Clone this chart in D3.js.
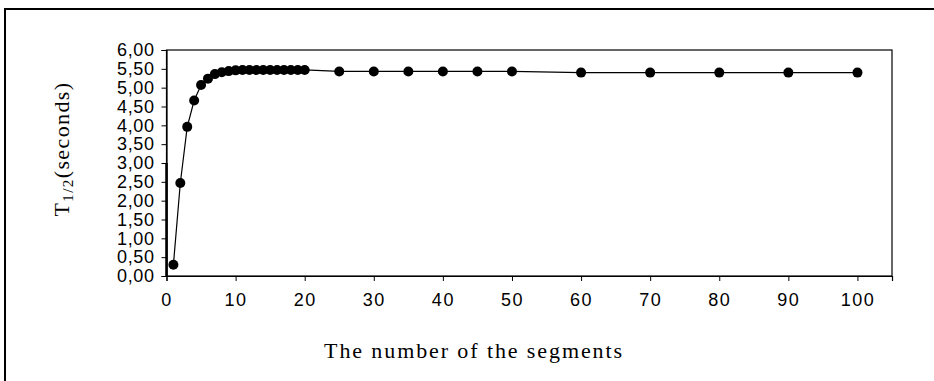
<!DOCTYPE html>
<html><head><meta charset="utf-8">
<script src="https://cdn.jsdelivr.net/npm/d3@7"></script>
<style>
html,body{margin:0;padding:0;background:#fff;}
svg{display:block;}
</style></head>
<body>
<svg id="chart" width="934" height="381"></svg>
<script>
const segments = [1,2,3,4,5,6,7,8,9,10,11,12,13,14,15,16,17,18,19,20,25,30,35,40,45,50,60,70,80,90,100];
const halfTimes = [0.30,2.47,3.96,4.66,5.07,5.24,5.36,5.41,5.44,5.46,5.47,5.47,5.47,5.47,5.47,5.47,5.47,5.47,5.47,5.47,5.43,5.43,5.43,5.43,5.43,5.43,5.40,5.40,5.40,5.40,5.40];
const xTicks = [0,10,20,30,40,50,60,70,80,90,100];
const yTicks = [0,0.5,1,1.5,2,2.5,3,3.5,4,4.5,5,5.5,6];
const axisEmphasis = [0, 3.0];
const xTitle = "The number of the segments";

const svg = d3.select("#chart");
const L = 166.5, R = 892, T = 50, B = 276;
const x = d3.scaleLinear().domain([0,105]).range([L,R]);
const y = d3.scaleLinear().domain([0,6]).range([B,T]);

// outer border
svg.append("rect").attr("x",5).attr("y",9).attr("width",1000).attr("height",500)
  .attr("fill","none").attr("stroke","#000").attr("stroke-width",2);

// plot frame
svg.append("rect").attr("x",L).attr("y",T).attr("width",R-L).attr("height",B-T)
  .attr("fill","none").attr("stroke","#000").attr("stroke-width",1.2);

const fmt = d => d3.format(".2f")(d).replace(".",",");
const yAxis = d3.axisLeft(y).tickValues(yTicks).tickFormat(fmt).tickSize(5).tickPadding(7);
const gy = svg.append("g").attr("transform",`translate(${L},0)`).call(yAxis);
gy.select(".domain").attr("stroke","#000").attr("stroke-width",1.2);
gy.selectAll("text").attr("font-family","Liberation Sans Narrow, Liberation Sans, Arial, sans-serif")
  .attr("font-size","18px").attr("letter-spacing","0.6px").attr("fill","#000");

const xAxis = d3.axisBottom(x).tickValues(xTicks).tickFormat(d3.format("d")).tickSize(5).tickPadding(12);
const gx = svg.append("g").attr("transform",`translate(0,${B})`).call(xAxis);
gx.select(".domain").attr("stroke","#000").attr("stroke-width",1.2);
gx.selectAll("text").attr("font-family","Liberation Sans Narrow, Liberation Sans, Arial, sans-serif")
  .attr("font-size","18px").attr("letter-spacing","1.5px").attr("fill","#000");

// thick emphasis on left axis
svg.append("line").attr("x1",L).attr("x2",L).attr("y1",y(axisEmphasis[0])).attr("y2",y(axisEmphasis[1]))
  .attr("stroke","#000").attr("stroke-width",2.5);

const pts = segments.map((s,i)=>({s, v:halfTimes[i]}));
const line = d3.line().x(d=>x(d.s)).y(d=>y(d.v));
svg.append("path").datum(pts).attr("d",line).attr("fill","none").attr("stroke","#000").attr("stroke-width",1.2);
svg.append("g").selectAll("circle").data(pts).join("circle")
  .attr("cx",d=>x(d.s)).attr("cy",d=>y(d.v)).attr("r",5).attr("fill","#000");

// axis titles
svg.append("text").attr("x",474).attr("y",358).attr("text-anchor","middle")
  .attr("font-family","Liberation Serif, Times New Roman, serif").attr("font-size","22px")
  .attr("letter-spacing","1.9px").attr("fill","#000").text(xTitle);

const yt = svg.append("text").attr("transform","translate(69,149) rotate(-90)").attr("text-anchor","middle")
  .attr("font-family","Liberation Serif, Times New Roman, serif").attr("font-size","22px")
  .attr("letter-spacing","1.4px").attr("fill","#000");
yt.append("tspan").text("T");
yt.append("tspan").attr("font-size","15px").attr("dy","4").text("1/2");
yt.append("tspan").attr("dy","-4").text("(seconds)");
</script>
</body></html>
